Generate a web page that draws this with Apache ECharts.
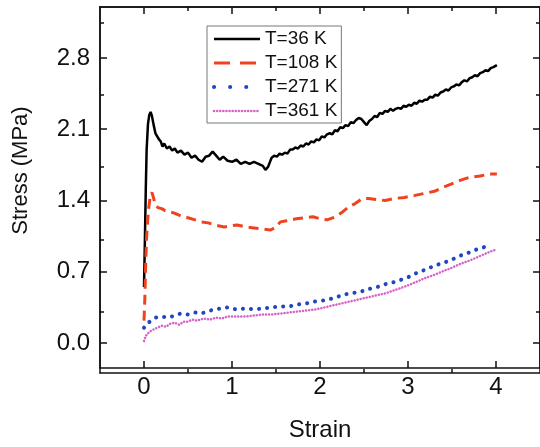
<!DOCTYPE html>
<html>
<head>
<meta charset="utf-8">
<script src="https://cdn.jsdelivr.net/npm/echarts@6/dist/echarts.min.js"></script>
<style>html,body{margin:0;padding:0;background:#fff}#c{width:540px;height:447px}</style>
</head>
<body>
<div id="c"></div>
<script>
var seriesNames = ['T=36 K', 'T=108 K', 'T=271 K', 'T=361 K'];
var xMajorTicks = [0, 1, 2, 3, 4];
var xMinorTicks = [0.5, 1.5, 2.5, 3.5];
var yMajorTicks = [0, 0.7, 1.4, 2.1, 2.8];
var yMinorTicks = [0.35, 1.05, 1.75, 2.45, 3.15];

var t36 = [[0,0.55],[0.01,1.0],[0.02,1.5],[0.03,1.9],[0.045,2.15],[0.06,2.24],[0.075,2.27],[0.09,2.23],[0.11,2.14],[0.13,2.06],[0.15,2.03],[0.17,2.0],[0.19,1.98],[0.21,1.93],[0.23,1.96],[0.26,1.91],[0.29,1.93],[0.32,1.89],[0.35,1.91],[0.38,1.87],[0.42,1.89],[0.46,1.85],[0.5,1.87],[0.54,1.82],[0.58,1.84],[0.62,1.8],[0.66,1.78],[0.7,1.83],[0.74,1.84],[0.78,1.88],[0.82,1.84],[0.86,1.8],[0.9,1.83],[0.95,1.79],[1.0,1.78],[1.05,1.8],[1.1,1.76],[1.15,1.78],[1.2,1.76],[1.25,1.78],[1.3,1.76],[1.35,1.74],[1.38,1.7],[1.41,1.73],[1.45,1.82],[1.48,1.84],[1.51,1.83],[1.54,1.86],[1.57,1.85],[1.6,1.87],[1.63,1.86],[1.66,1.9],[1.69,1.9],[1.72,1.92],[1.75,1.91],[1.78,1.94],[1.81,1.93],[1.84,1.96],[1.87,1.95],[1.9,1.98],[1.93,1.97],[1.96,2.0],[1.99,1.99],[2.02,2.03],[2.05,2.02],[2.08,2.05],[2.11,2.06],[2.14,2.05],[2.17,2.09],[2.2,2.08],[2.23,2.12],[2.26,2.11],[2.29,2.14],[2.32,2.13],[2.35,2.17],[2.38,2.16],[2.41,2.19],[2.44,2.21],[2.47,2.2],[2.5,2.17],[2.53,2.14],[2.56,2.18],[2.59,2.2],[2.62,2.23],[2.65,2.22],[2.68,2.26],[2.71,2.25],[2.74,2.28],[2.77,2.27],[2.8,2.3],[2.83,2.28],[2.86,2.3],[2.89,2.31],[2.92,2.3],[2.95,2.33],[2.98,2.32],[3.01,2.34],[3.04,2.33],[3.07,2.36],[3.1,2.35],[3.13,2.38],[3.16,2.37],[3.19,2.39],[3.22,2.39],[3.25,2.42],[3.28,2.41],[3.31,2.44],[3.34,2.43],[3.37,2.46],[3.4,2.47],[3.43,2.49],[3.46,2.48],[3.49,2.51],[3.52,2.52],[3.55,2.54],[3.58,2.53],[3.61,2.56],[3.64,2.58],[3.67,2.57],[3.7,2.6],[3.73,2.61],[3.76,2.63],[3.79,2.62],[3.82,2.65],[3.85,2.66],[3.88,2.68],[3.91,2.67],[3.94,2.7],[3.97,2.71],[4.01,2.73]];

var t108 = [[0,0.22],[0.01,0.45],[0.02,0.8],[0.03,1.05],[0.05,1.3],[0.07,1.44],[0.09,1.48],[0.11,1.42],[0.13,1.35],[0.16,1.33],[0.2,1.32],[0.24,1.3],[0.28,1.29],[0.33,1.28],[0.39,1.26],[0.44,1.24],[0.5,1.23],[0.58,1.21],[0.65,1.19],[0.73,1.18],[0.8,1.16],[0.91,1.14],[0.98,1.15],[1.06,1.16],[1.15,1.14],[1.25,1.13],[1.35,1.12],[1.44,1.11],[1.5,1.14],[1.55,1.19],[1.62,1.2],[1.73,1.22],[1.82,1.23],[1.92,1.24],[2.0,1.22],[2.08,1.21],[2.18,1.24],[2.26,1.29],[2.33,1.34],[2.4,1.37],[2.48,1.42],[2.55,1.42],[2.64,1.41],[2.74,1.4],[2.85,1.42],[2.96,1.43],[3.08,1.45],[3.19,1.47],[3.3,1.49],[3.4,1.53],[3.49,1.56],[3.6,1.6],[3.71,1.63],[3.82,1.64],[3.92,1.66],[4.01,1.66]];

var t271 = [[0,0.15],[0.02,0.18],[0.05,0.2],[0.08,0.22],[0.13,0.25],[0.2,0.26],[0.28,0.25],[0.35,0.27],[0.42,0.29],[0.5,0.28],[0.58,0.3],[0.65,0.29],[0.72,0.31],[0.8,0.33],[0.88,0.34],[0.95,0.35],[1.05,0.33],[1.15,0.34],[1.25,0.33],[1.35,0.34],[1.45,0.35],[1.55,0.36],[1.65,0.36],[1.75,0.38],[1.85,0.39],[1.95,0.41],[2.05,0.42],[2.15,0.44],[2.25,0.47],[2.35,0.49],[2.45,0.5],[2.55,0.53],[2.65,0.55],[2.75,0.58],[2.85,0.6],[2.95,0.63],[3.04,0.66],[3.12,0.7],[3.2,0.72],[3.3,0.76],[3.41,0.79],[3.5,0.82],[3.6,0.86],[3.7,0.89],[3.78,0.92],[3.86,0.94],[3.93,0.97]];

var t361 = [[0,0.02],[0.02,0.07],[0.06,0.11],[0.1,0.13],[0.15,0.15],[0.2,0.17],[0.25,0.16],[0.3,0.19],[0.35,0.2],[0.4,0.18],[0.45,0.21],[0.5,0.21],[0.55,0.23],[0.6,0.22],[0.68,0.24],[0.75,0.23],[0.82,0.25],[0.88,0.24],[0.95,0.26],[1.05,0.26],[1.15,0.26],[1.25,0.27],[1.35,0.28],[1.45,0.28],[1.55,0.29],[1.65,0.3],[1.75,0.31],[1.85,0.32],[1.95,0.33],[2.05,0.35],[2.15,0.37],[2.25,0.39],[2.35,0.41],[2.45,0.43],[2.55,0.45],[2.65,0.47],[2.75,0.49],[2.85,0.52],[2.95,0.55],[3.04,0.58],[3.12,0.61],[3.2,0.64],[3.3,0.67],[3.41,0.71],[3.5,0.74],[3.6,0.78],[3.7,0.81],[3.78,0.84],[3.86,0.87],[3.94,0.9],[4.01,0.92]];

var FONT = '"Liberation Sans", Arial, sans-serif';
var X_MIN = -0.5, X_MAX = 4.5, Y_MIN = -0.245, Y_MAX = 3.3;

function xAx(grid, pos, ticks, len, labels, name) {
  return {
    type: 'value', gridIndex: grid, position: pos, min: X_MIN, max: X_MAX,
    name: name || '', nameLocation: 'middle', nameGap: 50,
    nameTextStyle: {fontFamily: FONT, fontSize: 24, color: '#111'},
    axisLine: {show: true, onZero: false, lineStyle: {color: '#111', width: 1.5}},
    axisTick: {show: true, inside: true, length: len, customValues: ticks, lineStyle: {color: '#111', width: 1.5}},
    axisLabel: labels ? {show: true, customValues: labels, margin: 7, fontFamily: FONT, fontSize: 24, color: '#111'} : {show: false},
    splitLine: {show: false}
  };
}
function yAx(grid, pos, ticks, len, labels, name) {
  return {
    type: 'value', gridIndex: grid, position: pos, min: Y_MIN, max: Y_MAX,
    name: name || '', nameLocation: 'middle', nameGap: 68,
    nameTextStyle: {fontFamily: FONT, fontSize: 22, color: '#111', padding: [0, 0, 0, 34]},
    axisLine: {show: true, onZero: false, lineStyle: {color: '#111', width: 1.5}},
    axisTick: {show: true, inside: true, length: len, customValues: ticks, lineStyle: {color: '#111', width: 1.5}},
    axisLabel: labels ? {show: true, customValues: labels, margin: 10, fontFamily: FONT, fontSize: 24, color: '#111',
      formatter: function (v) { return v.toFixed(1); }} : {show: false},
    splitLine: {show: false}
  };
}

var gridRect = {left: 100, top: 7, right: -7, bottom: 74};
var colors = ['#000000', '#f0421f', '#1f47c0', '#d662c8'];

var option = {
  animation: false,
  backgroundColor: '#ffffff',
  grid: [Object.assign({}, gridRect), Object.assign({}, gridRect)],
  xAxis: [
    xAx(0, 'bottom', xMajorTicks, 7, xMajorTicks, 'Strain'),
    xAx(0, 'top', xMajorTicks, 7, null),
    xAx(1, 'bottom', xMinorTicks, 4, null),
    xAx(1, 'top', xMinorTicks, 4, null)
  ],
  yAxis: [
    yAx(0, 'left', yMajorTicks, 7, yMajorTicks, 'Stress (MPa)'),
    yAx(0, 'right', yMajorTicks, 7, null),
    yAx(1, 'left', yMinorTicks, 4, null),
    yAx(1, 'right', yMinorTicks, 4, null)
  ],
  legend: {
    show: true, left: 207, top: 26, orient: 'vertical',
    data: [
      {name: seriesNames[0], lineStyle: {width: 2.5}},
      {name: seriesNames[1], lineStyle: {width: 3, type: [16, 10]}},
      {name: seriesNames[2], lineStyle: {width: 4, type: [0.1, 16], cap: 'round'}},
      {name: seriesNames[3], lineStyle: {width: 2.5, type: [0.1, 3], cap: 'round'}}
    ],
    itemWidth: 46, itemHeight: 20, itemGap: 4,
    padding: [3, 4, 2, 5],
    borderColor: '#777', borderWidth: 1, backgroundColor: '#fff',
    itemStyle: {opacity: 0},
    textStyle: {fontFamily: FONT, fontSize: 19, color: '#111', lineHeight: 20}
  },
  series: [
    {name: seriesNames[0], type: 'line', data: t36, symbol: 'none', color: colors[0],
      lineStyle: {color: colors[0], width: 2.5}},
    {name: seriesNames[1], type: 'line', data: t108, symbol: 'none', color: colors[1],
      lineStyle: {color: colors[1], width: 3, type: [10, 6]}},
    {name: seriesNames[2], type: 'line', data: t271, symbol: 'none', color: colors[2],
      lineStyle: {color: colors[2], width: 4, type: [0.1, 8], cap: 'round'}},
    {name: seriesNames[3], type: 'line', data: t361, symbol: 'none', color: colors[3],
      lineStyle: {color: colors[3], width: 2.5, type: [0.1, 3], cap: 'round'}}
  ]
};
var chart = echarts.init(document.getElementById('c'), null, {renderer: 'canvas'});
chart.setOption(option);
</script>
</body>
</html>
